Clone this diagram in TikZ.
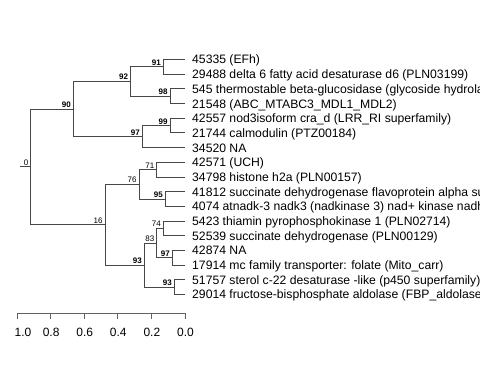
\documentclass[tikz,border=0pt]{standalone}
\usepackage{fontspec}
\setmainfont{Liberation Sans}
\begin{document}
\begin{tikzpicture}[x=1pt,y=-1pt,
  br/.style={draw=black!72,line width=0.9pt},
  leaflab/.style={anchor=west,inner sep=0pt,xshift=7.5pt,text height=8.8pt,text depth=0pt,font=\fontsize{12.2}{14}\selectfont},
  bsb/.style={anchor=south east,inner sep=0pt,xshift=-2.3pt,yshift=1.4pt,text depth=0pt,font=\fontsize{8}{9}\selectfont\bfseries},
  bsn/.style={bsb,font=\fontsize{8}{9}\selectfont},
  axlab/.style={inner sep=0pt,font=\fontsize{12}{14}\selectfont},
  axline/.style={draw=black!62,line width=0.9pt}]
\clip (0,0) rectangle (480,384);
\fill[white] (0,0) rectangle (480,384);
% leaves
\coordinate (t1) at (184.5,59.5);
\coordinate (t2) at (184.5,74.2);
\coordinate (t3) at (184.5,88.9);
\coordinate (t4) at (184.5,103.6);
\coordinate (t5) at (184.5,118.3);
\coordinate (t6) at (184.5,132.9);
\coordinate (t7) at (184.5,147.6);
\coordinate (t8) at (184.5,162.3);
\coordinate (t9) at (184.5,177.0);
\coordinate (t10) at (184.5,191.7);
\coordinate (t11) at (184.5,206.4);
\coordinate (t12) at (184.5,221.1);
\coordinate (t13) at (184.5,235.8);
\coordinate (t14) at (184.5,250.5);
\coordinate (t15) at (184.5,265.2);
\coordinate (t16) at (184.5,279.8);
\coordinate (t17) at (184.5,294.5);
% internal nodes
\coordinate (n91) at (163.3,66.85);
\coordinate (n98) at (170,96.25);
\coordinate (n92) at (130.5,81.55);
\coordinate (n99) at (170,125.6);
\coordinate (n97) at (142.3,136.6);
\coordinate (n90) at (73.3,109.1);
\coordinate (n71) at (156.7,169.65);
\coordinate (n95) at (165.3,199.05);
\coordinate (n76) at (139,184.35);
\coordinate (n74) at (163.3,228.45);
\coordinate (n97b) at (172.3,257.85);
\coordinate (n83) at (156.7,243.15);
\coordinate (n93b) at (174.3,287.15);
\coordinate (n93) at (144.3,265.15);
\coordinate (n16) at (105,224.75);
\coordinate (root) at (30.7,166.9);
\coordinate (rstub) at (20.3,166.9);
% branches
\draw[br] (rstub) -- (root);
\draw[br] (root) |- (n90);
\draw[br] (root) |- (n16);
\draw[br] (n90) |- (n92);
\draw[br] (n90) |- (n97);
\draw[br] (n92) |- (n91);
\draw[br] (n92) |- (n98);
\draw[br] (n91) |- (t1);
\draw[br] (n91) |- (t2);
\draw[br] (n98) |- (t3);
\draw[br] (n98) |- (t4);
\draw[br] (n97) |- (n99);
\draw[br] (n97) |- (t7);
\draw[br] (n99) |- (t5);
\draw[br] (n99) |- (t6);
\draw[br] (n16) |- (n76);
\draw[br] (n16) |- (n93);
\draw[br] (n76) |- (n71);
\draw[br] (n76) |- (n95);
\draw[br] (n71) |- (t8);
\draw[br] (n71) |- (t9);
\draw[br] (n95) |- (t10);
\draw[br] (n95) |- (t11);
\draw[br] (n93) |- (n83);
\draw[br] (n93) |- (n93b);
\draw[br] (n83) |- (n74);
\draw[br] (n83) |- (n97b);
\draw[br] (n74) |- (t12);
\draw[br] (n74) |- (t13);
\draw[br] (n97b) |- (t14);
\draw[br] (n97b) |- (t15);
\draw[br] (n93b) |- (t16);
\draw[br] (n93b) |- (t17);
% leaf labels
\node[leaflab] (l1) at (t1) {45335 (EFh)};
\node[leaflab] (l2) at (t2) {29488 delta 6 fatty acid desaturase d6 (PLN03199)};
\node[leaflab] (l3) at (t3) {545 thermostable beta-glucosidase (glycoside hydrolase)};
\node[leaflab] (l4) at (t4) {21548 (ABC\_MTABC3\_MDL1\_MDL2)};
\node[leaflab] (l5) at (t5) {42557 nod3isoform cra\_d (LRR\_RI superfamily)};
\node[leaflab] (l6) at (t6) {21744 calmodulin (PTZ00184)};
\node[leaflab] (l7) at (t7) {34520 NA};
\node[leaflab] (l8) at (t8) {42571 (UCH)};
\node[leaflab] (l9) at (t9) {34798 histone h2a (PLN00157)};
\node[leaflab] (l10) at (t10) {41812 succinate dehydrogenase flavoprotein alpha subunit};
\node[leaflab] (l11) at (t11) {4074 atnadk-3 nadk3 (nadkinase 3) nad+ kinase nadh kinase};
\node[leaflab] (l12) at (t12) {5423 thiamin pyrophosphokinase 1 (PLN02714)};
\node[leaflab] (l13) at (t13) {52539 succinate dehydrogenase (PLN00129)};
\node[leaflab] (l14) at (t14) {42874 NA};
\node[leaflab] (l15) at (t15) {17914 mc family transporter: folate (Mito\_carr)};
\node[leaflab] (l16) at (t16) {51757 sterol c-22 desaturase -like (p450 superfamily)};
\node[leaflab] (l17) at (t17) {29014 fructose-bisphosphate aldolase (FBP\_aldolase\_I)};
% support labels
\node[bsb] (b91) at (n91) {91};
\node[bsb] (b98) at (n98) {98};
\node[bsb] (b92) at (n92) {92};
\node[bsb] (b99) at (n99) {99};
\node[bsb] (b97) at (n97) {97};
\node[bsb] (b90) at (n90) {90};
\node[bsn] (b71) at (n71) {71};
\node[bsb] (b95) at (n95) {95};
\node[bsn] (b76) at (n76) {76};
\node[bsn] (b74) at (n74) {74};
\node[bsb] (b97b) at (n97b) {97};
\node[bsn] (b83) at (n83) {83};
\node[bsb] (b93b) at (n93b) {93};
\node[bsb] (b93) at (n93) {93};
\node[bsn] (b16) at (n16) {16};
\node[bsn] (b0) at (root) {0};
% axis
\coordinate (a10) at (17,313.3);
\coordinate (a08) at (50.6,313.3);
\coordinate (a06) at (84.2,313.3);
\coordinate (a04) at (117.8,313.3);
\coordinate (a02) at (151.4,313.3);
\coordinate (a00) at (185,313.3);
\draw[axline] (a10) -- (a00);
\foreach \p in {a10,a08,a06,a04,a02,a00}{
  \draw[axline] (\p) -- ++(0,5.2);
}
\node[axlab] (x10) at ([xshift=6pt,yshift=-19.5pt]a10) {1.0};
\node[axlab] (x08) at ([xshift=0.5pt,yshift=-19.5pt]a08) {0.8};
\node[axlab] (x06) at ([xshift=0.5pt,yshift=-19.5pt]a06) {0.6};
\node[axlab] (x04) at ([xshift=0.5pt,yshift=-19.5pt]a04) {0.4};
\node[axlab] (x02) at ([xshift=0.5pt,yshift=-19.5pt]a02) {0.2};
\node[axlab] (x00) at ([xshift=0.5pt,yshift=-19.5pt]a00) {0.0};
\end{tikzpicture}
\end{document}
